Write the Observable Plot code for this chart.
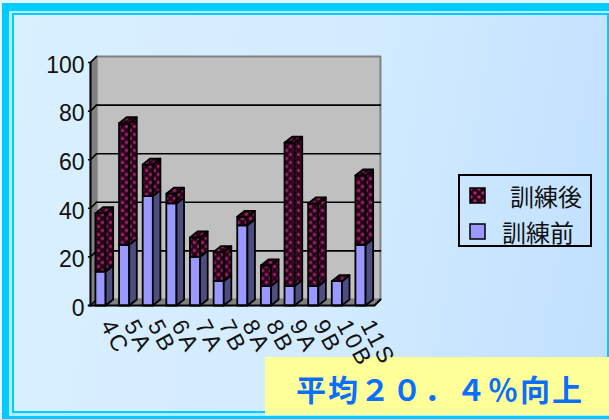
<!DOCTYPE html>
<html>
<head>
<meta charset="utf-8">
<script src="https://cdn.jsdelivr.net/npm/d3@7"></script>
<script src="https://cdn.jsdelivr.net/npm/@observablehq/plot@0.6"></script>
<style>
  html, body { margin: 0; padding: 0; width: 609px; height: 419px; overflow: hidden; background: #e4f6ff; }
  #stage { position: absolute; left: 0; top: 0; width: 609px; height: 419px; }
  #outer { position: absolute; left: 2px; top: 3px; right: 0; bottom: 0; background: #00ccff; }
  #light { position: absolute; left: 9px; top: 11px; right: 0px; bottom: 3px; background: #b4ecff; }
  #inner { position: absolute; left: 12px; top: 13px; right: 0px; bottom: 6px; background: #00ccff; }
  #panel { position: absolute; left: 14px; top: 15px; right: 2px; bottom: 8px;
           background: linear-gradient(100deg, #d9f0ff 0%, #d2ebff 55%, #c0e0ff 100%); }
  #band { position: absolute; left: 265px; top: 357px; width: 344px; height: 58px; background: #ffff99; }
  #plot { position: absolute; left: 0; top: 0; }
  #headline { position: absolute; left: 296px; top: 366px; white-space: nowrap;
              font: bold 30px "Noto Sans CJK JP", sans-serif; letter-spacing: 2px; line-height: 44px; color: #0a6eff; }
  #legend { position: absolute; left: 458px; top: 174px; width: 130px; height: 69px; border: 2px solid #000; }
  #legend svg { position: absolute; left: 9px; width: 17px; height: 17px; }
  #legend span { position: absolute; font: 24px/30px "Noto Sans CJK JP", sans-serif; color: #111; white-space: nowrap; }
  .xlabels text { letter-spacing: 3px; }
</style>
</head>
<body>
<div id="stage">
  <div id="outer"></div><div id="light"></div><div id="inner"></div><div id="panel"></div>
  <div id="band"></div>
  <svg width="0" height="0" style="position:absolute">
    <defs>
      <pattern id="dots" width="8" height="8" patternUnits="userSpaceOnUse">
        <rect width="8" height="8" fill="#260018"/>
        <rect x="0.5" y="0.5" width="3" height="3" fill="#a52a6e"/>
        <rect x="4.5" y="4.5" width="3" height="3" fill="#a52a6e"/>
      </pattern>
    </defs>
  </svg>
  <div id="plot"></div>
  <div id="legend">
    <svg style="top:11px"><rect x="1" y="1" width="15" height="15" fill="url(#dots)" stroke="#000" stroke-width="1.5"/></svg>
    <span style="left:50px;top:5px">訓練後</span>
    <svg style="top:47px"><rect x="1" y="1" width="15" height="15" fill="#9999ff" stroke="#000" stroke-width="1.5"/></svg>
    <span style="left:42px;top:41px">訓練前</span>
  </div>
  <div id="headline">平均２０．４％向上</div>
</div>
<script>
const categories = ["4C","5A","5B","6A","7A","7B","8A","8B","9A","9B","10B","11S"];
const before = [14, 25, 45, 42, 20, 10, 33, 8, 8, 8, 10, 25];
const gain = [24, 50, 13, 4, 8, 12, 3.5, 8.5, 59, 34, 0, 28.5];
const yTicks = [0, 20, 40, 60, 80, 100];
const gridValues = [20, 40, 60, 80];

const halfBar = 0.215, barDX = 0.32, depthY = 2.47;
const wallL = -0.423, wallR = 11.59, wallDX = 0.254;

const poly = (z, pts) => pts.map(([x, y]) => ({z, x, y}));
const faces = (fn) => categories.flatMap((c, i) => poly(c, fn(i, i - halfBar, i + halfBar)));
const top1 = (i) => before[i], top2 = (i) => before[i] + gain[i];

const frontFace = (lo, hi) => faces((i, a, b) => [[a, lo(i)], [b, lo(i)], [b, hi(i)], [a, hi(i)], [a, lo(i)]]);
const sideFace = (lo, hi) => faces((i, a, b) => [[b, lo(i)], [b + barDX, lo(i) + depthY], [b + barDX, hi(i) + depthY], [b, hi(i)], [b, lo(i)]]);
const topFace = (hi) => faces((i, a, b) => [[a, hi(i)], [b, hi(i)], [b + barDX, hi(i) + depthY], [a + barDX, hi(i) + depthY], [a, hi(i)]]);
const zero = () => 0;

const face = (data, fill) => Plot.line(data, {x: "x", y: "y", z: "z", fill, stroke: "#000", strokeWidth: 1.8, strokeLinejoin: "round", curve: "linear"});
const backX = wallL + wallDX, backR = wallR + wallDX;
const xy = {x: "x", y: "y", z: "z"};

const chart = Plot.plot({
  width: 609, height: 419,
  marginLeft: 90, marginTop: 62, marginBottom: 114, marginRight: 229,
  style: {background: "transparent", overflow: "visible"},
  x: {type: "linear", domain: [0, 11], range: [100, 360], axis: null},
  y: {domain: [0, 100]},
  marks: [
    Plot.line(poly("back", [[backX, depthY], [backR, depthY], [backR, 100 + depthY], [backX, 100 + depthY], [backX, depthY]]),
      {...xy, fill: "#c0c0c0", stroke: "#808080", strokeWidth: 2}),
    Plot.line(poly("left", [[wallL, 0], [backX, depthY], [backX, 100 + depthY], [wallL, 100], [wallL, 0]]),
      {...xy, fill: "#808080", stroke: "#808080"}),
    Plot.line(poly("floor", [[wallL, 0], [wallR, 0], [backR, depthY], [backX, depthY], [wallL, 0]]),
      {...xy, fill: "#808080", stroke: "#808080"}),
    Plot.line(gridValues.flatMap((v) => poly(v, [[backX, v + depthY], [backR, v + depthY]])),
      {...xy, stroke: "#000", strokeWidth: 1.6}),
    Plot.line(yTicks.flatMap((v) => poly(v, [[wallL - 0.08, v], [wallL, v], [backX, v + depthY]])),
      {...xy, stroke: "#000", strokeWidth: 1.6}),
    face(frontFace(zero, top1), "#9999ff"),
    face(sideFace(zero, top1), "#4d4d80"),
    face(frontFace(top1, top2), "url(#dots)"),
    face(sideFace(top1, top2), "url(#dots)"),
    face(topFace(top2), "url(#dots)"),
    Plot.line(poly("axisY", [[wallL, 0], [wallL, 100]]), {...xy, stroke: "#000", strokeWidth: 2}),
    Plot.line(poly("axisX", [[wallL - 0.08, 0], [wallR, 0], [backR, depthY]]), {...xy, stroke: "#000", strokeWidth: 2}),
    Plot.axisY({ticks: yTicks, tickSize: 0, tickPadding: 6, fontSize: 23, dy: 3, fontFamily: "Liberation Sans", fill: "#111", label: null}),
    Plot.text(categories, {
      x: (d, i) => i, y: () => 0, text: (d) => d,
      rotate: 62, textAnchor: "start", dx: 6, dy: 16,
      fontSize: 23, fontFamily: "Liberation Sans", fill: "#111",
      className: "xlabels"
    })
  ]
});
document.getElementById("plot").appendChild(chart);
</script>
</body>
</html>
